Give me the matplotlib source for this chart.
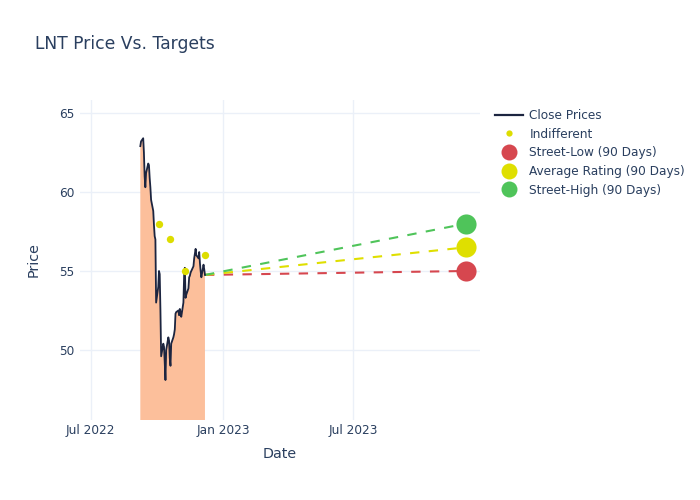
import numpy as np
import pandas as pd
import matplotlib
matplotlib.use("Agg")
import matplotlib.pyplot as plt
import matplotlib.dates as mdates
from matplotlib.lines import Line2D

# close prices, one per business day
dates = pd.bdate_range("2022-09-08", "2022-12-08")
close = [62.9, 63.2, 63.4, 62.5, 61.0, 60.3, 61.2, 61.8, 61.7, 60.9,
         60.3, 59.5, 58.8, 57.9, 57.2, 57.0, 53.0, 54.0, 55.0, 54.8,
         52.5, 49.6, 50.4, 50.2, 49.2, 48.1, 50.0, 50.8, 50.6, 49.5,
         49.0, 50.4, 50.8, 51.0, 51.3, 52.3, 52.4, 52.5, 52.2, 52.6,
         52.4, 52.1, 53.0, 54.7, 55.2, 53.3, 53.5, 53.9, 54.6, 54.7,
         54.9, 55.0, 55.3, 55.8, 56.1, 56.4, 56.0, 55.8, 56.2, 55.5,
         55.0, 54.6, 55.4, 55.1, 54.75]
close = close[:len(dates)]

# analyst ratings
rating_dates = pd.to_datetime(["2022-10-04", "2022-10-19", "2022-11-09", "2022-12-07"])
rating_prices = [58, 57, 55, 56]

# 90 day targets
target_date = pd.Timestamp("2023-12-06")
target_names = ["Street-Low (90 Days)", "Average Rating (90 Days)", "Street-High (90 Days)"]
target_values = [55, 56.5, 58]
target_colors = ["#d6474f", "#dfdf00", "#4fc45a"]

txt = "#2a3f5f"
grid = "#ebf0f8"

fig = plt.figure(figsize=(7, 5), dpi=100)
ax = fig.add_axes([80 / 700, 80 / 500, 400 / 700, 320 / 500])

# area + line
ax.fill_between(dates[:len(close)], 0, close, color="#fcbf9b", lw=0, zorder=1)
ax.plot(dates[:len(close)], close, color="#1c2540", lw=1.3, zorder=3)

# dashed target lines
last_d = dates[len(close) - 1]
last_p = close[-1]
for val, col in zip(target_values, target_colors):
    ax.plot([last_d, target_date], [last_p, val], color=col, lw=1.5,
            dashes=(4.5, 4.5), zorder=2)

ax.scatter(rating_dates, rating_prices, s=28, color="#dddd00", zorder=4, lw=0)
for val, col in zip(target_values, target_colors):
    ax.scatter([target_date], [val], s=210, color=col, zorder=5, lw=0)

ax.set_xlim(pd.Timestamp("2022-06-16"), pd.Timestamp("2023-12-25"))
ax.set_ylim(45.57, 65.82)
ax.set_yticks([50, 55, 60, 65])
ax.set_xticks(pd.to_datetime(["2022-07-01", "2023-01-01", "2023-07-01"]))
ax.xaxis.set_major_formatter(mdates.DateFormatter("%b %Y"))

for s in ax.spines.values():
    s.set_visible(False)
ax.grid(True, color=grid, lw=1)
ax.set_axisbelow(True)
ax.tick_params(length=0, colors=txt, labelsize=8.7)
ax.tick_params(axis="y", pad=4)
ax.tick_params(axis="x", pad=3)

ax.set_xlabel("Date", color=txt, fontsize=10.3, labelpad=7)
ax.set_ylabel("Price", color=txt, fontsize=10.3, labelpad=13)
fig.text(35 / 700, 1 - 44 / 500, "LNT Price Vs. Targets", color=txt,
         fontsize=12.3, va="center", ha="left")

handles = [Line2D([], [], color="#1c2540", lw=1.6),
           Line2D([], [], ls="none", marker="o", ms=4.5, color="#dddd00", mec="none")]
labels = ["Close Prices", "Indifferent"]
for name, col in zip(target_names, target_colors):
    handles.append(Line2D([], [], ls="none", marker="o", ms=11.5, color=col, mec="none"))
    labels.append(name)
leg = fig.legend(handles, labels, loc="upper left", bbox_to_anchor=(495 / 700, 1 - 109 / 500),
                 frameon=False, fontsize=8.7, handlelength=2.3, handletextpad=0.55,
                 labelspacing=0.47, borderaxespad=0, borderpad=0)
for t in leg.get_texts():
    t.set_color(txt)

fig.savefig("out.png", dpi=100)
